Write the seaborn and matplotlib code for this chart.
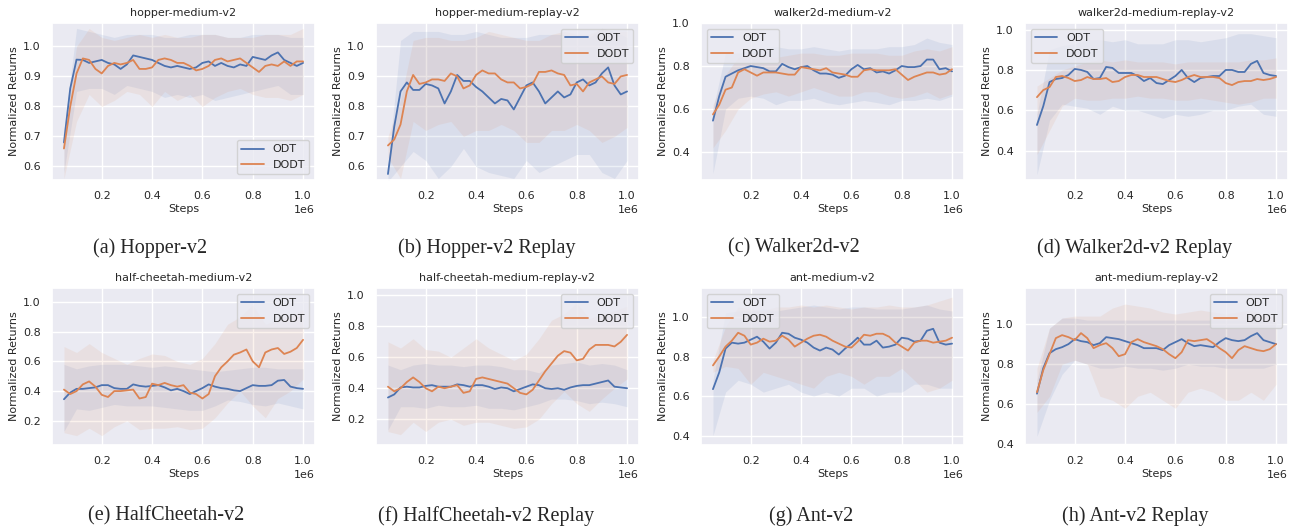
import numpy as np
import pandas as pd
import matplotlib
matplotlib.use("Agg")
import matplotlib.pyplot as plt
import seaborn as sns

# steps for the mean curves and for the shaded bands
steps = [50000, 75000, 100000, 125000, 150000, 175000, 200000, 225000, 250000, 275000,
         300000, 325000, 350000, 375000, 400000, 425000, 450000, 475000, 500000, 525000,
         550000, 575000, 600000, 625000, 650000, 675000, 700000, 725000, 750000, 775000,
         800000, 825000, 850000, 875000, 900000, 925000, 950000, 975000, 1000000]
band_steps = [50000, 100000, 150000, 200000, 250000, 300000, 350000, 400000, 450000, 500000,
              550000, 600000, 650000, 700000, 750000, 800000, 850000, 900000, 950000, 1000000]

titles = ["hopper-medium-v2", "hopper-medium-replay-v2", "walker2d-medium-v2",
          "walker2d-medium-replay-v2", "half-cheetah-medium-v2", "half-cheetah-medium-replay-v2",
          "ant-medium-v2", "ant-medium-replay-v2"]
captions = ["(a) Hopper-v2", "(b) Hopper-v2 Replay", "(c) Walker2d-v2", "(d) Walker2d-v2 Replay",
            "(e) HalfCheetah-v2", "(f) HalfCheetah-v2 Replay", "(g) Ant-v2", "(h) Ant-v2 Replay"]

# hopper-medium
odt_a = [0.68, 0.86, 0.956, 0.955, 0.945, 0.95, 0.955, 0.945, 0.94, 0.925, 0.94, 0.97, 0.965,
         0.96, 0.955, 0.945, 0.935, 0.93, 0.935, 0.93, 0.925, 0.93, 0.945, 0.95, 0.935, 0.945,
         0.935, 0.93, 0.94, 0.935, 0.965, 0.96, 0.955, 0.97, 0.98, 0.955, 0.945, 0.935, 0.945]
dodt_a = [0.66, 0.80, 0.91, 0.96, 0.955, 0.925, 0.91, 0.935, 0.945, 0.94, 0.945, 0.955, 0.925,
          0.925, 0.93, 0.955, 0.96, 0.955, 0.945, 0.945, 0.935, 0.92, 0.925, 0.935, 0.955, 0.96,
          0.95, 0.955, 0.96, 0.945, 0.93, 0.915, 0.935, 0.94, 0.935, 0.95, 0.935, 0.95, 0.95]
odt_a_hi = [0.72, 1.06, 1.05, 1.04, 1.03, 1.04, 1.04, 1.04, 1.03, 1.03, 1.04, 1.04, 1.04, 1.03, 1.03, 1.04, 1.04, 1.04, 1.03, 1.03]
odt_a_lo = [0.58, 0.85, 0.86, 0.86, 0.84, 0.87, 0.86, 0.85, 0.83, 0.84, 0.83, 0.84, 0.82, 0.83, 0.84, 0.85, 0.86, 0.87, 0.84, 0.84]
dodt_a_hi = [0.70, 1.00, 1.06, 1.03, 1.02, 1.03, 1.04, 1.03, 1.04, 1.03, 1.03, 1.04, 1.04, 1.03, 1.03, 1.03, 1.04, 1.04, 1.04, 1.06]
dodt_a_lo = [0.56, 0.75, 0.84, 0.80, 0.82, 0.85, 0.84, 0.80, 0.85, 0.82, 0.84, 0.80, 0.83, 0.85, 0.86, 0.84, 0.83, 0.83, 0.82, 0.84]

# hopper-medium-replay
odt_b = [0.575, 0.733, 0.85, 0.88, 0.855, 0.855, 0.875, 0.87, 0.86, 0.81, 0.85, 0.905, 0.885,
         0.885, 0.865, 0.85, 0.83, 0.81, 0.825, 0.82, 0.79, 0.83, 0.87, 0.88, 0.85, 0.81, 0.83,
         0.85, 0.83, 0.84, 0.88, 0.89, 0.87, 0.88, 0.91, 0.93, 0.87, 0.84, 0.85]
dodt_b = [0.67, 0.69, 0.74, 0.85, 0.905, 0.875, 0.88, 0.89, 0.89, 0.885, 0.91, 0.90, 0.86, 0.87,
          0.905, 0.92, 0.91, 0.91, 0.89, 0.88, 0.88, 0.86, 0.865, 0.875, 0.915, 0.915, 0.92,
          0.91, 0.905, 0.87, 0.875, 0.85, 0.88, 0.89, 0.90, 0.88, 0.875, 0.90, 0.905]
odt_b_hi = [0.60, 1.02, 1.05, 1.05, 1.05, 1.04, 1.04, 1.05, 1.04, 1.03, 1.03, 1.03, 1.04, 1.04, 1.04, 1.03, 1.03, 1.06, 1.05, 1.03]
odt_b_lo = [0.55, 0.60, 0.65, 0.62, 0.56, 0.60, 0.66, 0.60, 0.58, 0.57, 0.56, 0.62, 0.58, 0.60, 0.62, 0.64, 0.64, 0.58, 0.56, 0.62]
dodt_b_hi = [0.70, 0.82, 1.02, 1.03, 1.03, 1.02, 1.02, 1.03, 1.05, 1.04, 1.03, 1.02, 1.02, 1.04, 1.05, 1.04, 1.04, 1.06, 1.05, 1.05]
dodt_b_lo = [0.63, 0.56, 0.75, 0.72, 0.74, 0.75, 0.70, 0.72, 0.72, 0.74, 0.72, 0.68, 0.68, 0.72, 0.72, 0.74, 0.72, 0.68, 0.70, 0.73]

# walker2d-medium
odt_c = [0.546, 0.66, 0.75, 0.765, 0.78, 0.79, 0.80, 0.795, 0.79, 0.775, 0.775, 0.81, 0.795,
         0.785, 0.795, 0.80, 0.78, 0.765, 0.765, 0.76, 0.745, 0.755, 0.785, 0.805, 0.785, 0.79,
         0.77, 0.775, 0.765, 0.78, 0.80, 0.795, 0.795, 0.80, 0.83, 0.83, 0.785, 0.79, 0.775]
dodt_c = [0.575, 0.62, 0.69, 0.70, 0.77, 0.785, 0.77, 0.755, 0.77, 0.77, 0.77, 0.765, 0.76, 0.76,
          0.795, 0.79, 0.785, 0.78, 0.79, 0.77, 0.765, 0.76, 0.75, 0.75, 0.78, 0.785, 0.78, 0.78,
          0.78, 0.785, 0.76, 0.735, 0.75, 0.76, 0.77, 0.77, 0.76, 0.765, 0.785]
odt_c_hi = [0.60, 0.86, 0.86, 0.87, 0.88, 0.89, 0.88, 0.88, 0.89, 0.88, 0.87, 0.88, 0.88, 0.88, 0.89, 0.89, 0.90, 0.93, 0.91, 0.90]
odt_c_lo = [0.30, 0.60, 0.65, 0.66, 0.65, 0.62, 0.64, 0.64, 0.65, 0.63, 0.62, 0.63, 0.64, 0.63, 0.62, 0.64, 0.64, 0.65, 0.64, 0.66]
dodt_c_hi = [0.62, 0.76, 0.84, 0.86, 0.85, 0.84, 0.85, 0.86, 0.86, 0.85, 0.85, 0.86, 0.86, 0.86, 0.85, 0.85, 0.87, 0.88, 0.87, 0.89]
dodt_c_lo = [0.42, 0.50, 0.60, 0.65, 0.67, 0.68, 0.66, 0.68, 0.70, 0.68, 0.66, 0.66, 0.68, 0.68, 0.66, 0.65, 0.66, 0.68, 0.65, 0.67]

# walker2d-medium-replay
odt_d = [0.527, 0.62, 0.74, 0.755, 0.76, 0.775, 0.805, 0.80, 0.79, 0.755, 0.76, 0.815, 0.81,
         0.785, 0.785, 0.785, 0.77, 0.745, 0.76, 0.735, 0.73, 0.75, 0.77, 0.80, 0.76, 0.74, 0.76,
         0.765, 0.77, 0.77, 0.80, 0.80, 0.79, 0.79, 0.83, 0.845, 0.785, 0.775, 0.77]
dodt_d = [0.665, 0.70, 0.715, 0.765, 0.77, 0.76, 0.745, 0.75, 0.765, 0.755, 0.755, 0.76, 0.74,
          0.745, 0.765, 0.775, 0.775, 0.765, 0.765, 0.765, 0.755, 0.745, 0.74, 0.75, 0.765,
          0.775, 0.765, 0.765, 0.765, 0.76, 0.735, 0.725, 0.74, 0.745, 0.745, 0.755, 0.75, 0.755, 0.765]
odt_d_hi = [0.58, 0.90, 0.92, 0.93, 0.95, 0.95, 0.94, 0.95, 0.93, 0.93, 0.93, 0.95, 0.95, 0.94, 0.95, 0.96, 0.98, 0.98, 0.97, 0.96]
odt_d_lo = [0.28, 0.55, 0.63, 0.62, 0.61, 0.58, 0.62, 0.60, 0.60, 0.58, 0.56, 0.58, 0.57, 0.58, 0.60, 0.60, 0.62, 0.63, 0.58, 0.57]
dodt_d_hi = [0.72, 0.76, 0.80, 0.82, 0.84, 0.85, 0.84, 0.85, 0.84, 0.84, 0.84, 0.83, 0.84, 0.84, 0.84, 0.84, 0.84, 0.85, 0.85, 0.86]
dodt_d_lo = [0.38, 0.50, 0.62, 0.66, 0.65, 0.65, 0.66, 0.66, 0.67, 0.66, 0.66, 0.65, 0.65, 0.66, 0.65, 0.64, 0.63, 0.64, 0.66, 0.66]

# half-cheetah-medium
odt_e = [0.345, 0.39, 0.415, 0.415, 0.42, 0.425, 0.44, 0.44, 0.42, 0.415, 0.415, 0.445, 0.435,
         0.43, 0.435, 0.44, 0.425, 0.405, 0.415, 0.40, 0.38, 0.40, 0.42, 0.445, 0.43, 0.42, 0.415,
         0.405, 0.40, 0.42, 0.44, 0.435, 0.435, 0.44, 0.47, 0.475, 0.43, 0.42, 0.415]
dodt_e = [0.41, 0.38, 0.40, 0.445, 0.465, 0.43, 0.375, 0.36, 0.40, 0.40, 0.405, 0.41, 0.35, 0.36,
          0.45, 0.44, 0.455, 0.44, 0.43, 0.44, 0.39, 0.38, 0.35, 0.38, 0.50, 0.56, 0.60, 0.645,
          0.66, 0.68, 0.60, 0.56, 0.66, 0.68, 0.69, 0.65, 0.665, 0.69, 0.745]
odt_e_hi = [0.58, 0.55, 0.57, 0.58, 0.58, 0.58, 0.57, 0.56, 0.57, 0.56, 0.55, 0.54, 0.53, 0.54, 0.55, 0.56, 0.56, 0.55, 0.55, 0.55]
odt_e_lo = [0.13, 0.28, 0.27, 0.29, 0.31, 0.30, 0.30, 0.30, 0.29, 0.28, 0.27, 0.27, 0.30, 0.34, 0.33, 0.31, 0.30, 0.32, 0.30, 0.28]
dodt_e_hi = [0.70, 0.66, 0.72, 0.66, 0.62, 0.58, 0.62, 0.65, 0.64, 0.60, 0.58, 0.62, 0.72, 0.85, 0.90, 0.98, 0.85, 0.88, 0.90, 0.95]
dodt_e_lo = [0.12, 0.10, 0.15, 0.10, 0.16, 0.20, 0.14, 0.15, 0.15, 0.16, 0.14, 0.15, 0.22, 0.32, 0.40, 0.30, 0.22, 0.35, 0.40, 0.48]

# half-cheetah-medium-replay
odt_f = [0.34, 0.36, 0.405, 0.41, 0.405, 0.405, 0.415, 0.42, 0.41, 0.41, 0.41, 0.425, 0.42,
         0.41, 0.42, 0.42, 0.41, 0.395, 0.405, 0.40, 0.38, 0.395, 0.41, 0.425, 0.42, 0.40, 0.395,
         0.40, 0.39, 0.405, 0.415, 0.42, 0.42, 0.43, 0.44, 0.45, 0.41, 0.405, 0.40]
dodt_f = [0.41, 0.38, 0.40, 0.44, 0.47, 0.44, 0.40, 0.38, 0.41, 0.40, 0.41, 0.42, 0.37, 0.38,
          0.46, 0.47, 0.46, 0.45, 0.44, 0.43, 0.40, 0.37, 0.36, 0.39, 0.45, 0.51, 0.56, 0.61,
          0.64, 0.63, 0.58, 0.59, 0.65, 0.68, 0.68, 0.68, 0.67, 0.70, 0.745]
odt_f_hi = [0.55, 0.52, 0.55, 0.56, 0.55, 0.55, 0.54, 0.55, 0.55, 0.54, 0.52, 0.52, 0.50, 0.55, 0.56, 0.57, 0.55, 0.56, 0.55, 0.52]
odt_f_lo = [0.13, 0.28, 0.28, 0.27, 0.29, 0.28, 0.28, 0.29, 0.27, 0.27, 0.26, 0.28, 0.30, 0.33, 0.33, 0.32, 0.30, 0.31, 0.30, 0.28]
dodt_f_hi = [0.70, 0.66, 0.72, 0.65, 0.64, 0.60, 0.66, 0.72, 0.66, 0.62, 0.58, 0.62, 0.72, 0.84, 0.88, 0.95, 0.85, 0.88, 0.90, 0.93]
dodt_f_lo = [0.12, 0.10, 0.18, 0.12, 0.18, 0.20, 0.16, 0.18, 0.18, 0.16, 0.14, 0.15, 0.20, 0.30, 0.38, 0.30, 0.25, 0.33, 0.40, 0.46]

# ant-medium
odt_g = [0.635, 0.72, 0.84, 0.87, 0.865, 0.87, 0.885, 0.90, 0.875, 0.84, 0.87, 0.92, 0.915,
         0.895, 0.885, 0.87, 0.845, 0.83, 0.845, 0.835, 0.81, 0.84, 0.865, 0.895, 0.86, 0.86,
         0.88, 0.845, 0.85, 0.86, 0.895, 0.89, 0.875, 0.88, 0.93, 0.94, 0.87, 0.86, 0.865]
dodt_g = [0.755, 0.80, 0.85, 0.88, 0.92, 0.905, 0.86, 0.87, 0.89, 0.875, 0.88, 0.905, 0.885,
          0.85, 0.87, 0.89, 0.905, 0.91, 0.90, 0.88, 0.865, 0.85, 0.845, 0.875, 0.91, 0.905,
          0.915, 0.915, 0.90, 0.87, 0.85, 0.83, 0.87, 0.88, 0.88, 0.87, 0.875, 0.88, 0.895]
odt_g_hi = [0.68, 1.02, 1.03, 1.03, 1.04, 1.03, 1.04, 1.05, 1.06, 1.05, 1.04, 1.05, 1.05, 1.04, 1.04, 1.04, 1.05, 1.06, 1.04, 1.03]
odt_g_lo = [0.40, 0.62, 0.68, 0.66, 0.62, 0.64, 0.66, 0.62, 0.60, 0.62, 0.60, 0.64, 0.64, 0.60, 0.62, 0.62, 0.66, 0.66, 0.64, 0.64]
dodt_g_hi = [0.78, 0.95, 1.05, 1.04, 1.03, 1.05, 1.05, 1.06, 1.05, 1.06, 1.05, 1.04, 1.05, 1.05, 1.06, 1.05, 1.05, 1.06, 1.08, 1.10]
dodt_g_lo = [0.72, 0.75, 0.74, 0.66, 0.72, 0.70, 0.68, 0.66, 0.64, 0.70, 0.72, 0.70, 0.66, 0.70, 0.70, 0.74, 0.68, 0.62, 0.64, 0.68]

# ant-medium-replay
odt_h = [0.653, 0.78, 0.855, 0.875, 0.885, 0.90, 0.925, 0.915, 0.91, 0.895, 0.905, 0.935, 0.93,
         0.925, 0.915, 0.905, 0.895, 0.88, 0.88, 0.88, 0.87, 0.895, 0.91, 0.925, 0.905, 0.89,
         0.895, 0.89, 0.885, 0.91, 0.93, 0.92, 0.915, 0.92, 0.94, 0.955, 0.92, 0.91, 0.90]
dodt_h = [0.66, 0.77, 0.85, 0.93, 0.945, 0.935, 0.92, 0.955, 0.93, 0.88, 0.895, 0.905, 0.88,
          0.84, 0.85, 0.91, 0.925, 0.91, 0.90, 0.89, 0.875, 0.85, 0.83, 0.86, 0.92, 0.915, 0.92,
          0.925, 0.905, 0.88, 0.86, 0.83, 0.87, 0.89, 0.88, 0.87, 0.865, 0.875, 0.90]
odt_h_hi = [0.72, 0.98, 1.03, 1.03, 1.02, 1.02, 1.02, 1.02, 1.02, 1.02, 1.02, 1.02, 1.02, 1.02, 1.02, 1.02, 1.02, 1.02, 1.02, 1.01]
odt_h_lo = [0.44, 0.62, 0.75, 0.82, 0.80, 0.78, 0.78, 0.79, 0.78, 0.78, 0.77, 0.78, 0.80, 0.79, 0.79, 0.78, 0.78, 0.78, 0.78, 0.80]
dodt_h_hi = [0.78, 0.98, 1.03, 1.04, 1.04, 1.04, 1.08, 1.10, 1.09, 1.08, 1.06, 1.05, 1.06, 1.07, 1.06, 1.05, 1.06, 1.07, 1.05, 1.03]
dodt_h_lo = [0.56, 0.64, 0.80, 0.82, 0.80, 0.64, 0.62, 0.58, 0.64, 0.66, 0.62, 0.58, 0.66, 0.68, 0.66, 0.62, 0.62, 0.66, 0.62, 0.70]

panels = [
    (odt_a, dodt_a, odt_a_lo, odt_a_hi, dodt_a_lo, dodt_a_hi),
    (odt_b, dodt_b, odt_b_lo, odt_b_hi, dodt_b_lo, dodt_b_hi),
    (odt_c, dodt_c, odt_c_lo, odt_c_hi, dodt_c_lo, dodt_c_hi),
    (odt_d, dodt_d, odt_d_lo, odt_d_hi, dodt_d_lo, dodt_d_hi),
    (odt_e, dodt_e, odt_e_lo, odt_e_hi, dodt_e_lo, dodt_e_hi),
    (odt_f, dodt_f, odt_f_lo, odt_f_hi, dodt_f_lo, dodt_f_hi),
    (odt_g, dodt_g, odt_g_lo, odt_g_hi, dodt_g_lo, dodt_g_hi),
    (odt_h, dodt_h, odt_h_lo, odt_h_hi, dodt_h_lo, dodt_h_hi),
]

# layout (figure fractions) and per-panel axis settings
ylims = [(0.555, 1.078), (0.555, 1.078), (0.27, 1.0), (0.254, 1.033),
         (0.037, 1.094), (0.033, 1.048), (0.353, 1.146), (0.397, 1.18)]
yticks = [[0.6, 0.7, 0.8, 0.9, 1.0], [0.6, 0.7, 0.8, 0.9, 1.0], [0.4, 0.6, 0.8, 1.0], [0.4, 0.6, 0.8, 1.0],
          [0.2, 0.4, 0.6, 0.8, 1.0], [0.2, 0.4, 0.6, 0.8, 1.0], [0.4, 0.6, 0.8, 1.0], [0.4, 0.6, 0.8, 1.0]]
legend_locs = ["lower right", "upper right", "upper left", "upper left",
               "upper right", "upper right", "upper left", "upper right"]
lefts = [52, 376, 701, 1025]
cap_x = [150, 487, 794, 1135, 166, 486, 811, 1135]

sns.set_theme(style="darkgrid")
plt.rcParams['font.family'] = ['DejaVu Sans']
blue, orange = sns.color_palette("deep")[0], sns.color_palette("deep")[1]

W, H = 1299, 529
fig = plt.figure(figsize=(W / 100, H / 100), dpi=100)

for i, (o, d, olo, ohi, dlo, dhi) in enumerate(panels):
    row, col = divmod(i, 4)
    top_px = 23 if row == 0 else 288
    ax = fig.add_axes([lefts[col] / W, 1 - (top_px + 157) / H, 263 / W, 157 / H])

    df = pd.DataFrame({"Steps": steps * 2, "ret": o + d,
                       "algo": ["ODT"] * len(steps) + ["DODT"] * len(steps)})
    ax.fill_between(band_steps, olo, ohi, color=blue, alpha=0.1, lw=0)
    ax.fill_between(band_steps, dlo, dhi, color=orange, alpha=0.1, lw=0)
    sns.lineplot(data=df, x="Steps", y="ret", hue="algo", palette=[blue, orange],
                 lw=1.3, ax=ax)

    ax.set_ylim(*ylims[i])
    ax.set_yticks(yticks[i])
    ax.set_xticks([200000, 400000, 600000, 800000, 1000000])
    ax.set_title(titles[i], fontsize=8, pad=5)
    ax.set_xlabel("Steps", fontsize=8, labelpad=2)
    ax.set_ylabel("Normalized Returns", fontsize=8, labelpad=3)
    ax.tick_params(labelsize=8, pad=2)
    ax.xaxis.get_offset_text().set_fontsize(8)
    ax.legend(loc=legend_locs[i], fontsize=8, title=None)

    cy = 248 if row == 0 else 516
    fig.text(cap_x[i] / W, 1 - cy / H, captions[i], ha="center", va="center",
             fontsize=14.5, family="Liberation Serif")

fig.savefig("out.png", dpi=100)
